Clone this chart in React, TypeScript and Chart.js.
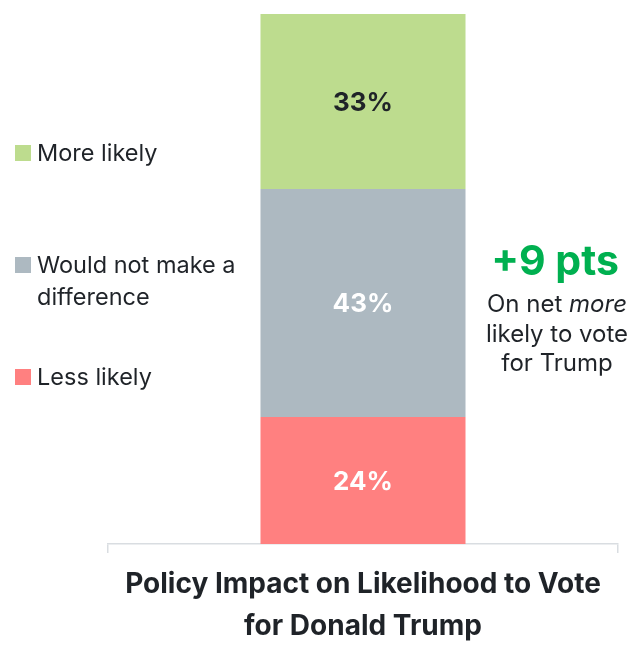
import React, { useEffect, useRef } from 'react';
import { Chart, registerables } from 'chart.js';

Chart.register(...registerables);

const categories = ['Policy Impact'];
const seriesNames = ['Less likely', 'Would not make a difference', 'More likely'];
const lessLikely = [24];
const noDifference = [43];
const moreLikely = [33];
const seriesColors = ['#ff8080', '#adb9c1', '#bddc8e'];
const labelColors = ['#ffffff', '#ffffff', '#1f2328'];
const axisTitle = ['Policy Impact on Likelihood to Vote', 'for Donald Trump'];
const netText = '+9 pts';

const FONT = 'Inter, "Noto Sans", sans-serif';
const TEXT = '#1f2328';

const labelPlugin = {
  id: 'barLabels',
  afterDatasetsDraw(chart: any) {
    const ctx = chart.ctx;
    const size = 26;
    chart.data.datasets.forEach((ds: any, i: number) => {
      const meta = chart.getDatasetMeta(i);
      meta.data.forEach((bar: any, j: number) => {
        const { x, y, base } = bar.getProps(['x', 'y', 'base'], true);
        ctx.save();
        ctx.font = `bold ${size}px ${FONT}`;
        ctx.fillStyle = labelColors[i];
        ctx.textAlign = 'center';
        ctx.textBaseline = 'alphabetic';
        ctx.fillText(ds.data[j] + '%', x, (y + base) / 2 + size * 0.727 / 2);
        ctx.restore();
      });
    });
  },
};

export default function App() {
  const ref = useRef<HTMLCanvasElement>(null);
  useEffect(() => {
    if (!ref.current) return;
    const values = [lessLikely, noDifference, moreLikely];
    const chart = new Chart(ref.current, {
      type: 'bar',
      data: {
        labels: categories,
        datasets: seriesNames.map((name, i) => ({
          label: name,
          data: values[i],
          backgroundColor: seriesColors[i],
          borderWidth: 0,
          categoryPercentage: 1,
          barPercentage: 0.402,
        })),
      },
      options: {
        responsive: false,
        animation: false,
        layout: { padding: { left: 108, right: 23, top: 14, bottom: 0 } },
        plugins: { legend: { display: false }, tooltip: { enabled: false } },
        scales: {
          x: {
            type: 'category',
            stacked: true,
            ticks: { display: false },
            grid: {
              display: true,
              drawOnChartArea: false,
              drawTicks: true,
              tickLength: 9,
              color: '#d9dde1',
              lineWidth: 1.5,
              offset: true,
            },
            border: { display: true, color: '#d9dde1', width: 1.5 },
            title: {
              display: true,
              text: axisTitle,
              color: TEXT,
              font: { family: FONT, size: 28, weight: 'bold', lineHeight: 1.48 },
              padding: { top: 11, bottom: 2 },
            },
          },
          y: {
            stacked: true,
            display: false,
            min: 0,
            max: 100,
          },
        },
      },
      plugins: [labelPlugin],
    } as any);
    return () => chart.destroy();
  }, []);

  const legendItems = [
    { name: 'More likely', lines: ['More likely'], color: seriesColors[2], top: 136.5 },
    { name: seriesNames[1], lines: ['Would not make a', 'difference'], color: seriesColors[1], top: 248.5 },
    { name: 'Less likely', lines: ['Less likely'], color: seriesColors[0], top: 360.5 },
  ];

  return (
    <div style={{ position: 'absolute', left: 0, top: 0, width: 641, height: 649, background: '#fff', fontFamily: FONT, color: TEXT }}>
      <canvas ref={ref} width={641} height={649} style={{ position: 'absolute', left: 0, top: 0 }} />
      {legendItems.map((it) => (
        <div key={it.name}>
          <div style={{ position: 'absolute', left: 15, top: it.top + 24.55 - 16, width: 16, height: 16, background: it.color }} />
          <div style={{ position: 'absolute', left: 37, top: it.top, fontSize: 23.5, lineHeight: '32px', whiteSpace: 'nowrap' }}>
            {it.lines.map((l, k) => (
              <div key={k}>{l}</div>
            ))}
          </div>
        </div>
      ))}
      <div style={{ position: 'absolute', left: 475, width: 160, top: 238.3, textAlign: 'center', fontSize: 41, fontWeight: 'bold', lineHeight: '45px', color: '#00b050', whiteSpace: 'nowrap' }}>
        {netText}
      </div>
      <div style={{ position: 'absolute', left: 477, width: 160, top: 289, textAlign: 'center', fontSize: 24, lineHeight: '29.5px', whiteSpace: 'nowrap' }}>
        <div>On net <i>more</i></div>
        <div>likely to vote</div>
        <div>for Trump</div>
      </div>
    </div>
  );
}
